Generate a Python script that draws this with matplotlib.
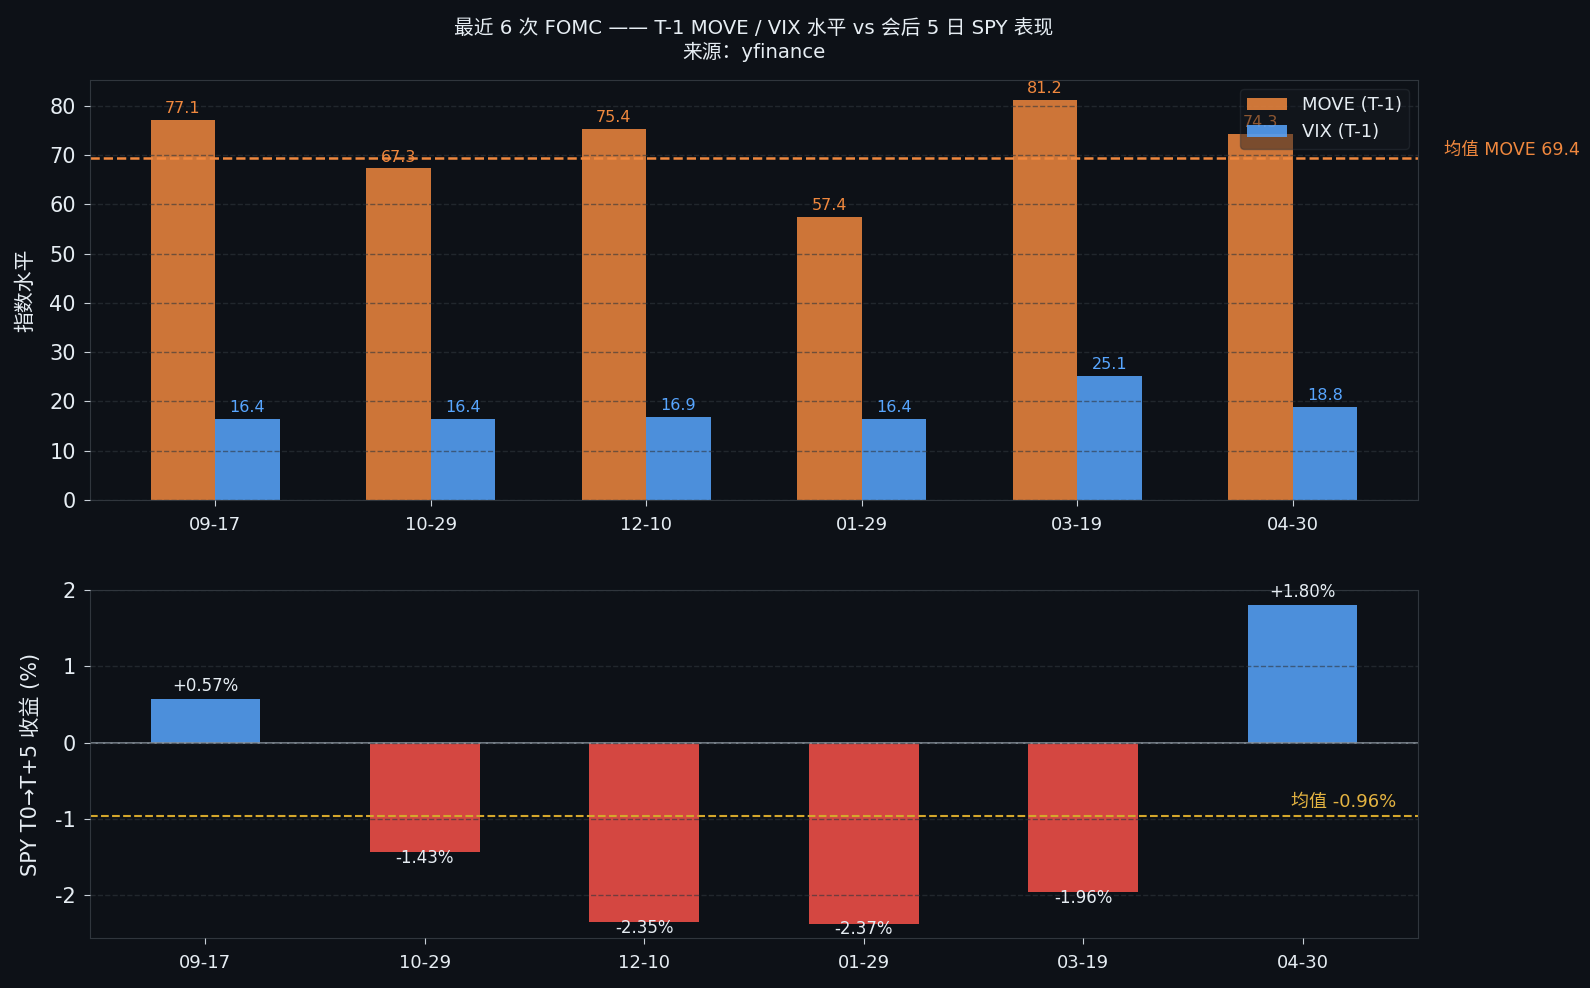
import matplotlib
matplotlib.use("Agg")
import matplotlib.pyplot as plt
import numpy as np

plt.rcParams['font.family'] = ['DejaVu Sans', 'Noto Sans CJK SC']
plt.rcParams['axes.unicode_minus'] = False

dates = ["09-17", "10-29", "12-10", "01-29", "03-19", "04-30"]
move_t1 = [77.1, 67.3, 75.4, 57.4, 81.2, 74.3]
vix_t1 = [16.4, 16.4, 16.9, 16.4, 25.1, 18.8]
spy_ret = [0.57, -1.43, -2.35, -2.37, -1.96, 1.80]
move_mean = 69.4

BG = "#0d1117"
TXT = "#e6edf3"
GRID = "#30363d"
ORANGE = "#f0883e"
BLUE = "#58a6ff"
RED = "#f85149"
YEL = "#d4a72c"

fig = plt.figure(figsize=(15.9, 9.88), dpi=100, facecolor=BG)
ax1 = fig.add_axes([0.0567, 0.494, 0.835, 0.425])
ax2 = fig.add_axes([0.0567, 0.0506, 0.835, 0.352])

for ax in (ax1, ax2):
    ax.set_facecolor(BG)
    for s in ax.spines.values():
        s.set_color(GRID)
    ax.tick_params(colors="#c9d1d9", labelcolor=TXT, length=4.2)
    ax.tick_params(axis='y', labelsize=15, pad=6)
    ax.tick_params(axis='x', labelsize=13, pad=7.5)
    ax.grid(axis='y', color=GRID, linestyle='--', alpha=0.6, linewidth=1)
    ax.set_axisbelow(False)

x = np.arange(len(dates))
w = 0.3
ax1.bar(x - w / 2, move_t1, w, color=ORANGE, alpha=0.85, label="MOVE (T-1)")
ax1.bar(x + w / 2, vix_t1, w, color=BLUE, alpha=0.85, label="VIX (T-1)")
for xi, v in zip(x, move_t1):
    ax1.text(xi - w / 2, v + 0.8, f"{v:.1f}", ha='center', va='bottom', color=ORANGE, fontsize=11.5)
for xi, v in zip(x, vix_t1):
    ax1.text(xi + w / 2, v + 0.8, f"{v:.1f}", ha='center', va='bottom', color=BLUE, fontsize=11.5)
ax1.axhline(move_mean, color=ORANGE, linestyle='--', linewidth=1.8)
ax1.text(1.02, move_mean + 1.6, f"均值 MOVE {move_mean:.1f}", transform=ax1.get_yaxis_transform(),
         ha='left', va='center', color=ORANGE, fontsize=12.5)
ax1.set_xticks(x)
ax1.set_xticklabels(dates)
ax1.set_ylabel("指数水平", color=TXT, fontsize=15, labelpad=10)
ax1.set_title("最近 6 次 FOMC —— T-1 MOVE / VIX 水平 vs 会后 5 日 SPY 表现\n来源：yfinance",
              color=TXT, fontsize=14.2, pad=16)
ax1.legend(loc='upper right', fontsize=13, facecolor="#161b22", edgecolor=GRID,
           labelcolor=TXT, framealpha=0.45, handlelength=2.2)

colors = [BLUE if v >= 0 else RED for v in spy_ret]
ax2.bar(x, spy_ret, 0.5, color=colors, alpha=0.85)
for xi, v in zip(x, spy_ret):
    if v >= 0:
        ax2.text(xi, v + 0.06, f"{v:+.2f}%", ha='center', va='bottom', color=TXT, fontsize=12)
    else:
        ax2.text(xi, v + 0.04, f"{v:+.2f}%", ha='center', va='top', color=TXT, fontsize=12)
ax2.axhline(0, color="#8b949e", linewidth=1.2)
spy_mean = float(np.mean(spy_ret))
ax2.axhline(spy_mean, color=YEL, linestyle='--', linewidth=1.5)
ax2.text(0.984, spy_mean + 0.06, f"均值 {spy_mean:.2f}%", transform=ax2.get_yaxis_transform(),
         ha='right', va='bottom', color="#e3b341", fontsize=13)
ax2.set_xticks(x)
ax2.set_xticklabels(dates)
ax2.set_ylim(-2.56, 2.0)
ax2.set_yticks([-2, -1, 0, 1, 2])
ax2.set_ylabel("SPY T0→T+5 收益 (%)", color=TXT, fontsize=15, labelpad=10)

fig.savefig("out.png", dpi=100, facecolor=BG)
